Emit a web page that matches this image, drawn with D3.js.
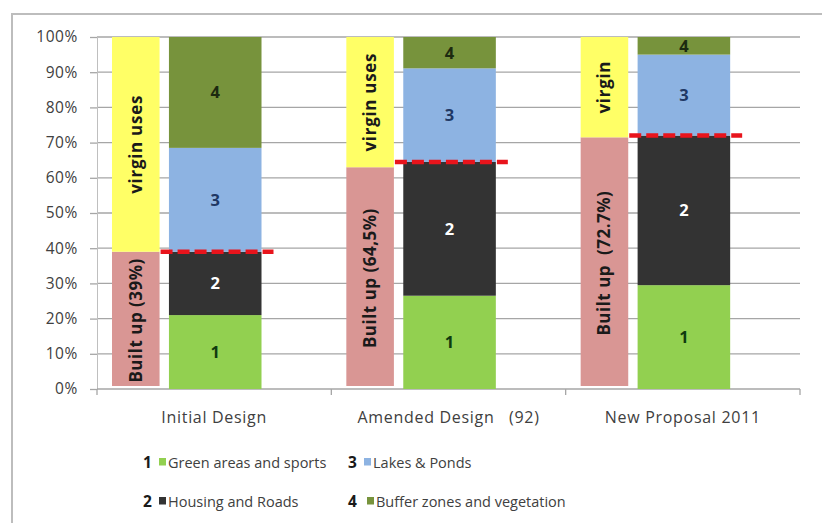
<!DOCTYPE html>
<html>
<head>
<meta charset="utf-8">
<script src="https://cdn.jsdelivr.net/npm/d3@7"></script>
<style>
  html, body { margin: 0; padding: 0; background: #fff; }
  svg { display: block; font-family: "Open Sans", "Noto Sans", sans-serif; }
</style>
</head>
<body>
<svg id="chart" width="822" height="523"></svg>
<script>
// ---- data ----
const categories = ["Initial Design", "Amended Design   (92)", "New Proposal 2011"];
const builtUp = [39, 63, 71.5];
const builtUpLabels = ["Built up (39%)", "Built up (64,5%)", "Built up  (72.7%)"];
const virginLabels = ["virgin uses", "virgin uses", "virgin"];
const greenAreas = [21, 26.5, 29.5];
const housingRoads = [18, 38, 42.5];
const lakesPonds = [29.5, 26.6, 23];
const bufferZones = [31.5, 8.9, 5];
const seriesNames = ["Green areas and sports", "Housing and Roads", "Lakes & Ponds", "Buffer zones and vegetation"];
const seriesNums = ["1", "2", "3", "4"];
const yTicks = [0, 10, 20, 30, 40, 50, 60, 70, 80, 90, 100];

// ---- style ----
const colors = ["#92d050", "#333333", "#8db3e2", "#77933c"];
const labelColors = ["#0f3a0f", "#ffffff", "#1f3864", "#1c2a10"];

const svg = d3.select("#chart");
const L = 97, R = 800, T = 37, B = 389;

// outer border
svg.append("rect").attr("x", 12).attr("y", 14).attr("width", 830).attr("height", 530)
  .attr("fill", "none").attr("stroke", "#bdbdbd").attr("stroke-width", 2);

const x = d3.scaleBand().domain(categories).range([L, R]).paddingInner(0).paddingOuter(0);
const y = d3.scaleLinear().domain([0, 100]).range([B, T]);

// gridlines
svg.append("g").selectAll("line").data(yTicks.filter(d => d > 0)).join("line")
  .attr("x1", L).attr("x2", R).attr("y1", d => y(d)).attr("y2", d => y(d))
  .attr("stroke", "#a6a6a6").attr("stroke-width", 1.3);

// y axis
const yAxis = d3.axisLeft(y).tickValues(yTicks).tickFormat(d => d + "%").tickSize(7).tickPadding(12);
const gy = svg.append("g").attr("transform", `translate(${L},0)`).call(yAxis);
gy.select(".domain").attr("stroke", "#bfbfbf").attr("stroke-width", 1);
gy.selectAll(".tick line").attr("stroke", "#a6a6a6").attr("stroke-width", 1.3);
gy.selectAll(".tick text").attr("font-size", 15.5).attr("fill", "#404040")
  .attr("letter-spacing", 0.6).attr("font-family", "'Open Sans', sans-serif");

// x axis
const gx = svg.append("g").attr("transform", `translate(0,${B})`)
  .call(d3.axisBottom(x).tickSize(0).tickPadding(23));
gx.select(".domain").remove();
gx.selectAll(".tick text").attr("font-size", 16).attr("fill", "#404040")
  .attr("letter-spacing", 0.7)
  .style("white-space", "pre").attr("font-family", "'Open Sans', sans-serif");
svg.append("line").attr("x1", L).attr("x2", R).attr("y1", B).attr("y2", B)
  .attr("stroke", "#a6a6a6").attr("stroke-width", 1.5);
const bounds = [L].concat(categories.map(c => x(c) + x.bandwidth()));
svg.append("g").selectAll("line").data(bounds).join("line")
  .attr("x1", d => d).attr("x2", d => d).attr("y1", B).attr("y2", B + 6)
  .attr("stroke", "#a6a6a6").attr("stroke-width", 1.3);

const bw = x.bandwidth();
const sideX = c => x(c) + bw * 0.064;
const sideW = bw * 0.203;
const stackX = c => x(c) + bw * 0.307;
const stackW = bw * 0.395;

// side bars: built up + virgin
const side = categories.map((c, i) => ({ c, b: builtUp[i], bl: builtUpLabels[i], vl: virginLabels[i] }));
const gs = svg.append("g");
gs.selectAll("rect.pink").data(side).join("rect").attr("class", "pink")
  .attr("x", d => sideX(d.c)).attr("width", sideW)
  .attr("y", d => y(d.b)).attr("height", d => y(0) - y(d.b) - 3)
  .attr("fill", "#d99694");
gs.selectAll("rect.yel").data(side).join("rect").attr("class", "yel")
  .attr("x", d => sideX(d.c)).attr("width", sideW)
  .attr("y", y(100)).attr("height", d => y(d.b) - y(100))
  .attr("fill", "#ffff66");
gs.selectAll("text.bl").data(side).join("text").attr("class", "bl")
  .attr("transform", d => `translate(${sideX(d.c) + sideW / 2 + 6},${y(d.b / 2)}) rotate(-90)`)
  .attr("text-anchor", "middle").attr("font-size", 17).attr("font-weight", "bold")
  .attr("letter-spacing", 0.5)
  .attr("fill", "#1a1a1a").style("white-space", "pre").text(d => d.bl);
gs.selectAll("text.vl").data(side).join("text").attr("class", "vl")
  .attr("transform", d => `translate(${sideX(d.c) + sideW / 2 + 6},${y((d.b + 100) / 2)}) rotate(-90)`)
  .attr("text-anchor", "middle").attr("font-size", 17).attr("font-weight", "bold")
  .attr("letter-spacing", 0.7)
  .attr("fill", "#1a1a1a").text(d => d.vl);

// stacked bars
const table = categories.map((c, i) => ({ c, s0: greenAreas[i], s1: housingRoads[i], s2: lakesPonds[i], s3: bufferZones[i] }));
const stack = d3.stack().keys(["s0", "s1", "s2", "s3"])(table);
const gb = svg.append("g");
stack.forEach((layer, k) => {
  gb.append("g").selectAll("rect").data(layer).join("rect")
    .attr("x", d => stackX(d.data.c)).attr("width", stackW)
    .attr("y", d => y(d[1])).attr("height", d => y(d[0]) - y(d[1]))
    .attr("fill", colors[k]);
  gb.append("g").selectAll("text").data(layer).join("text")
    .attr("x", d => stackX(d.data.c) + stackW / 2).attr("y", d => y((d[0] + d[1]) / 2) + 6)
    .attr("text-anchor", "middle").attr("font-size", 16.5).attr("font-weight", "bold")
    .attr("fill", labelColors[k]).text(seriesNums[k]);
});

// red dashed built-up line (top of series 2)
svg.append("g").selectAll("line").data(stack[1]).join("line")
  .attr("x1", d => sideX(d.data.c) + sideW + 1).attr("x2", d => stackX(d.data.c) + stackW + 12)
  .attr("y1", d => y(d[1])).attr("y2", d => y(d[1]))
  .attr("stroke", "#e8141c").attr("stroke-width", 4.5).attr("stroke-dasharray", "12,5");

// legend
const legendPos = [[143, 468], [143, 507], [348, 468], [348, 507]];
const lg = svg.append("g");
seriesNames.forEach((name, k) => {
  const [lx, ly] = legendPos[k];
  lg.append("text").attr("x", lx).attr("y", ly).attr("font-size", 15.5).attr("font-weight", "bold")
    .attr("fill", "#1a1a1a").text(seriesNums[k]);
  const off = k === 3 ? 19 : 16;
  lg.append("rect").attr("x", lx + off).attr("y", ly - 10).attr("width", 7).attr("height", 7.5).attr("fill", colors[k]);
  lg.append("text").attr("x", lx + off + 9).attr("y", ly).attr("font-size", 14.5)
    .attr("fill", "#404040").text(name);
});
</script>
</body>
</html>
